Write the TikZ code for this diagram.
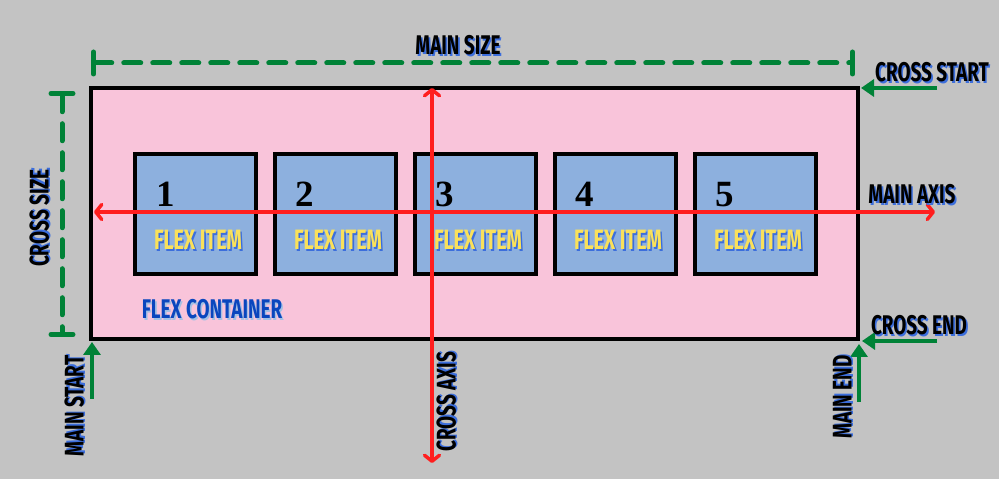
\documentclass[tikz,border=0pt]{standalone}
\usepackage{fontspec}
\usetikzlibrary{arrows.meta,positioning}
\newfontfamily\blockfont[FakeStretch=0.7]{Fira Sans Bold}
\setmainfont{Liberation Serif}
\definecolor{bggray}{RGB}{195,195,195}
\definecolor{boxpink}{RGB}{249,196,218}
\definecolor{itemblue}{RGB}{141,176,222}
\definecolor{guidegreen}{RGB}{0,130,55}
\definecolor{axisred}{RGB}{255,30,30}
\definecolor{halo}{RGB}{60,110,220}
\definecolor{labelblue}{RGB}{10,70,190}
\definecolor{itemyellow}{RGB}{250,225,90}
% text with a blue shadow behind it
\newcommand\haloed[2][halo]{\makebox[0pt][l]{\hspace{1.6pt}\raisebox{-1.6pt}{\color{#1}#2}}#2}
\tikzset{
  container/.style={draw, line width=4pt, fill=boxpink, minimum width=767pt, minimum height=251pt, inner sep=0pt},
  item/.style={draw, line width=4pt, fill=itemblue, minimum width=121pt, minimum height=120pt, inner sep=0pt},
  num/.style={font=\bfseries\fontsize{37}{37}\selectfont, inner sep=0pt, anchor=base west},
  itemlbl/.style={font=\blockfont\fontsize{28}{28}\selectfont, text=itemyellow, inner sep=0pt},
  lbl/.style={font=\blockfont\fontsize{27}{27}\selectfont, inner sep=0pt},
  axis/.style={draw=axisred, line width=3.5pt, {Straight Barb[length=6pt,width=15pt,round]}-{Straight Barb[length=6pt,width=15pt,round]}},
  guide/.style={draw=guidegreen, line width=4.5pt, -{Triangle[length=13pt,width=17pt]}},
  dim/.style={draw=guidegreen, line width=5pt, line cap=round, dash pattern=on 17pt off 12pt,
    {Bar[width=22pt,round]}-{Bar[width=22pt,round]}}
}
\begin{document}
\begin{tikzpicture}[x=1pt, y=1pt]
  \fill[bggray] (0,0) rectangle (999,479);
  \useasboundingbox (0,0) rectangle (999,479);

  \node[container] (box) at (474.5,265.5) {};
  \node[lbl, text=labelblue] (boxlbl) at (212,169) {\haloed[itemblue!80!white]{FLEX CONTAINER}};

  % flex items
  \node[item] (i1) at (195.5,265) {};
  \node[item] (i2) at (335.5,265) {};
  \node[item] (i3) at (475.5,265) {};
  \node[item] (i4) at (615.5,265) {};
  \node[item] (i5) at (755.5,265) {};

  \node[num] (n1) at (156,272) {1};
  \node[num] (n2) at (295,272) {2};
  \node[num] (n3) at (435,272) {3};
  \node[num] (n4) at (575,272) {4};
  \node[num] (n5) at (715,272) {5};

  \node[itemlbl] (t1) at (198,238) {\haloed{FLEX ITEM}};
  \node[itemlbl] (t2) at (338,238) {\haloed{FLEX ITEM}};
  \node[itemlbl] (t3) at (478,238) {\haloed{FLEX ITEM}};
  \node[itemlbl] (t4) at (618,238) {\haloed{FLEX ITEM}};
  \node[itemlbl] (t5) at (758,238) {\haloed{FLEX ITEM}};

  % axes
  \coordinate (maw) at (94,267);
  \coordinate (mae) at (935,267);
  \coordinate (can) at (432,391);
  \coordinate (cas) at (432,16);
  \draw[axis] (maw) -- (mae);
  \draw[axis] (can) -- (cas);
  \node[lbl] (malbl) at (912,284) {\haloed{MAIN AXIS}};
  \node[lbl, rotate=90] (calbl) at (447,77) {\haloed{CROSS AXIS}};

  % sizes
  \coordinate (msw) at (91,416);
  \coordinate (mse) at (855,416);
  \coordinate (csn) at (62,388);
  \coordinate (css) at (62,142);
  \draw[dim] (msw) -- (mse);
  \draw[dim] (csn) -- (css);
  \node[lbl] (mslbl) at (458,433) {\haloed{MAIN SIZE}};
  \node[lbl, rotate=90] (cslbl) at (40,261) {\haloed{CROSS SIZE}};

  % start and end
  \coordinate (cs0) at (937,391);
  \coordinate (cs1) at (861,391);
  \coordinate (ce0) at (937,138);
  \coordinate (ce1) at (862,138);
  \coordinate (mst0) at (92,80);
  \coordinate (mst1) at (92,137);
  \coordinate (me0) at (859,77);
  \coordinate (me1) at (859,135);
  \draw[guide] (cs0) -- (cs1);
  \draw[guide] (ce0) -- (ce1);
  \draw[guide] (mst0) -- (mst1);
  \draw[guide] (me0) -- (me1);
  \node[lbl] (cslbl2) at (932,406) {\haloed{CROSS START}};
  \node[lbl] (celbl) at (919,153) {\haloed{CROSS END}};
  \node[lbl, rotate=90] (mstlbl) at (75,73) {\haloed{MAIN START}};
  \node[lbl, rotate=90] (melbl) at (843,82) {\haloed{MAIN END}};
\end{tikzpicture}
\end{document}
